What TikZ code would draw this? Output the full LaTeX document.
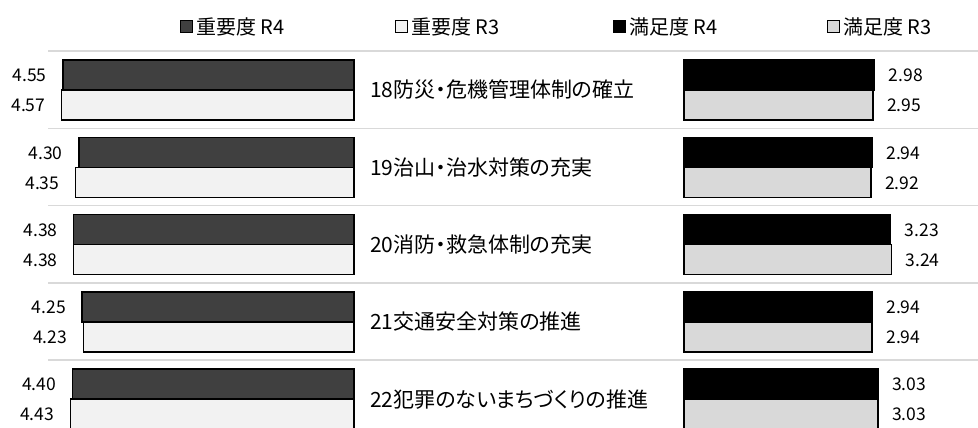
\documentclass[tikz,border=0pt]{standalone}
\usepackage{fontspec}
\setmainfont{Noto Sans CJK JP}[RawFeature=+palt]
\definecolor{imp4}{HTML}{404040}
\definecolor{imp3}{HTML}{F2F2F2}
\definecolor{sat4}{HTML}{000000}
\definecolor{sat3}{HTML}{D9D9D9}
\definecolor{gridgray}{HTML}{D9D9D9}
\begin{document}
\begin{tikzpicture}[x=1pt,y=-1pt,
	lbl/.style={inner sep=0pt,font=\fontsize{17.5}{19}\selectfont},
	cat/.style={inner sep=0pt,anchor=west,font=\fontsize{21}{23}\selectfont},
	legtxt/.style={inner sep=0pt,anchor=west,font=\fontsize{20}{22}\selectfont},
	bar/.style={draw=black,line width=1.5pt},
	sep/.style={draw=gridgray,line width=1.5pt}]
		\useasboundingbox (0,0) rectangle (978,428);
		\clip (0,0) rectangle (978,428);
		\foreach \x/\c/\t [count=\i] in {180/imp4/重要度 R4, 395/imp3/重要度 R3, 613/sat4/満足度 R4, 827/sat3/満足度 R3}{
			\draw[draw=black,line width=1pt,fill=\c] (\x,21) rectangle ++(12,12);
			\node[legtxt] (leg\i) at (\x+16,27) {\t};
		}
		\foreach \t/\a/\b/\c/\d [count=\i from 0] in {18防災・危機管理体制の確立/4.55/4.57/2.98/2.95, 19治山・治水対策の充実/4.30/4.35/2.94/2.92, 20消防・救急体制の充実/4.38/4.38/3.23/3.24, 21交通安全対策の推進/4.25/4.23/2.94/2.94, 22犯罪のないまちづくりの推進/4.40/4.43/3.03/3.03}{
			\pgfmathsetmacro\yt{60+77.3*\i}
			\draw[sep] (48,\yt-9) -- (978,\yt-9);
			\draw[bar,fill=imp4] (354,\yt) rectangle (354-64*\a,\yt+30);
			\draw[bar,fill=imp3] (354,\yt+30) rectangle (354-64*\b,\yt+60);
			\draw[bar,fill=sat4] (684,\yt) rectangle (684+64*\c,\yt+30);
			\draw[bar,fill=sat3] (684,\yt+30) rectangle (684+64*\d,\yt+60);
			\node[lbl,anchor=east] (ia\i) at (354-64*\a-16,\yt+15.5) {\a};
			\node[lbl,anchor=east] (ib\i) at (354-64*\b-16,\yt+45.5) {\b};
			\node[lbl,anchor=west] (sa\i) at (684+64*\c+14,\yt+15.5) {\c};
			\node[lbl,anchor=west] (sb\i) at (684+64*\d+14,\yt+45.5) {\d};
			\node[cat] (cat\i) at (370,\yt+30) {\t};
		}
		\end{tikzpicture}
\end{document}
